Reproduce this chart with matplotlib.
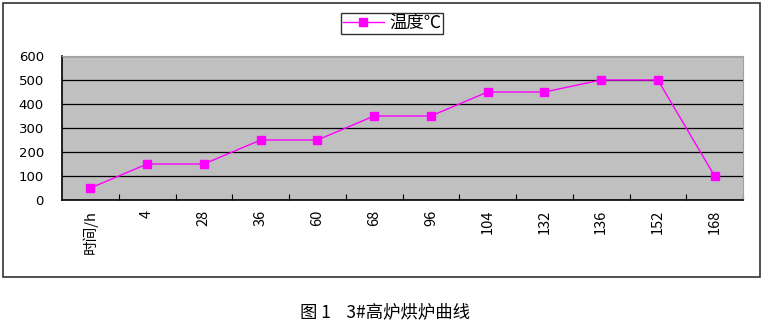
import matplotlib
matplotlib.use("Agg")
import matplotlib.pyplot as plt
from matplotlib.patches import Rectangle

plt.rcParams['font.family'] = ['DejaVu Sans', 'Noto Sans CJK SC']

categories = ['时间/h', '4', '28', '36', '60', '68', '96', '104', '132', '136', '152', '168']
temps = [50, 150, 150, 250, 250, 350, 350, 450, 450, 500, 500, 100]

fig = plt.figure(figsize=(7.72, 3.21), dpi=100)

# outer chart border
fig.patches.append(Rectangle((3 / 772, 1 - 277 / 321), 757 / 772, 274 / 321,
                             transform=fig.transFigure, fill=False,
                             edgecolor='#333333', linewidth=1.2))

ax = fig.add_axes([62 / 772, 1 - 200 / 321, 681 / 772, 144 / 321])
ax.set_facecolor('#C0C0C0')

x = list(range(len(categories)))
ax.plot(x, temps, color='#FF00FF', linewidth=1, marker='s', markersize=6,
        markerfacecolor='#FF00FF', markeredgecolor='#FF00FF', label='温度℃')

ax.set_xlim(-0.5, len(categories) - 0.5)
ax.set_ylim(0, 600)
ax.set_yticks(range(0, 601, 100))
ax.yaxis.grid(True, color='black', linewidth=0.9)
ax.set_axisbelow(True)

ax.set_xticks([i + 0.5 for i in range(len(categories))])
ax.set_xticklabels([])
ax.set_xticks(x, minor=True)
ax.set_xticklabels(categories, minor=True, rotation=90, fontsize=10.5,
                   family=['Liberation Sans Narrow', 'Noto Sans CJK SC'])
ax.tick_params(axis='x', which='minor', length=0, pad=7)
ax.tick_params(axis='x', which='major', direction='in', length=4, color='black')
ax.tick_params(axis='y', length=0, labelsize=9.5, pad=13)

for s in ['top', 'right']:
    ax.spines[s].set_color('#A0A0A0')
for s in ['left', 'bottom']:
    ax.spines[s].set_color('black')
    ax.spines[s].set_linewidth(1.2)

leg = fig.legend(loc='center', bbox_to_anchor=(392 / 772, 1 - 23.5 / 321),
                 prop={'family': ['Noto Sans CJK SC', 'DejaVu Sans'], 'size': 12.5},
                 frameon=True, fancybox=False, handlelength=2.4,
                 borderpad=0.1, handletextpad=0.3)
leg.get_frame().set_edgecolor('black')
leg.get_frame().set_linewidth(1)

fig.text(385 / 772, 1 - 312 / 321, '图 1    3#高炉烘炉曲线', ha='center',
         va='center', fontsize=12.5, family=['Noto Sans CJK SC', 'DejaVu Sans'])

fig.savefig('out.png', dpi=100)
